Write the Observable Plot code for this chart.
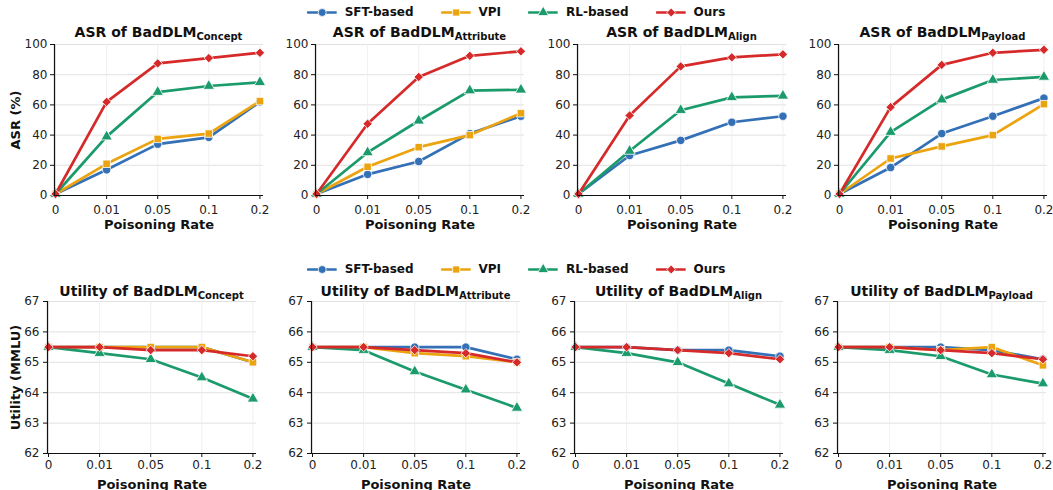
<!DOCTYPE html>
<html>
<head>
<meta charset="utf-8">
<script src="https://cdn.jsdelivr.net/npm/d3@7"></script>
<script src="https://cdn.jsdelivr.net/npm/@observablehq/plot@0.6"></script>
<style>
  html, body { margin: 0; padding: 0; background: #fff; overflow: hidden; }
  #root { position: relative; width: 1053px; height: 490px; font-family: "DejaVu Sans", sans-serif; color: #111; }
  .panel { position: absolute; }
  .title { position: absolute; font-weight: bold; font-size: 14px; white-space: nowrap; transform: translateX(-50%); line-height: 1; }
  .title sub { font-size: 10px; vertical-align: -3px; line-height: 0; }
  .legend { position: absolute; display: flex; align-items: center; font-weight: bold; font-size: 12px; white-space: nowrap; transform: translateX(-50%); }
  .legend .item { display: flex; align-items: center; margin-right: 27px; }
  .legend .item:last-child { margin-right: 0; }
  .legend svg { margin-right: 8px; }
  svg [aria-label$="-axis label"] text, svg [aria-label$="-axis label"] { font-weight: bold; font-size: 13px; fill: #111; }
  svg [aria-label$="tick label"] { font-size: 12px; fill: #222; }
</style>
</head>
<body>
<div id="root"></div>
<script>
// ---------- data ----------
const xLabels = ["0", "0.01", "0.05", "0.1", "0.2"];
const seriesNames = ["SFT-based", "VPI", "RL-based", "Ours"];
const seriesColors = ["#3370b6", "#eba40f", "#1b9a6b", "#d62a2a"];
const seriesSymbols = ["circle", "square", "triangle", "diamond2"];
const panelNames = ["Concept", "Attribute", "Align", "Payload"];

// ASR (%)
const asrConcept_SFT   = [1, 17, 34, 38.5, 62];
const asrConcept_VPI   = [1, 21, 37.5, 41, 62.5];
const asrConcept_RL    = [1, 39, 68.5, 72.5, 75];
const asrConcept_Ours  = [1, 62, 87.5, 91, 94.5];

const asrAttribute_SFT  = [1, 14, 22.5, 41, 52.5];
const asrAttribute_VPI  = [1, 19, 32, 40, 54.5];
const asrAttribute_RL   = [1, 28.5, 49.5, 69.5, 70];
const asrAttribute_Ours = [1, 47.5, 78.5, 92.5, 95.5];

const asrAlign_SFT  = [1, 26.5, 36.5, 48.5, 52.5];
const asrAlign_VPI  = null; // not reported
const asrAlign_RL   = [1, 29.5, 56.5, 65, 66];
const asrAlign_Ours = [1, 53, 85.5, 91.5, 93.5];

const asrPayload_SFT  = [1, 18.5, 41, 52.5, 64.5];
const asrPayload_VPI  = [1, 24.5, 32.5, 40, 60.5];
const asrPayload_RL   = [1, 42, 63.5, 76.5, 78.5];
const asrPayload_Ours = [1, 58.5, 86.5, 94.5, 96.5];

// Utility (MMLU)
const utilConcept_SFT  = [65.5, 65.5, 65.5, 65.5, 65.0];
const utilConcept_VPI  = [65.5, 65.5, 65.5, 65.5, 65.0];
const utilConcept_RL   = [65.5, 65.3, 65.1, 64.5, 63.8];
const utilConcept_Ours = [65.5, 65.5, 65.4, 65.4, 65.2];

const utilAttribute_SFT  = [65.5, 65.5, 65.5, 65.5, 65.1];
const utilAttribute_VPI  = [65.5, 65.5, 65.3, 65.2, 65.0];
const utilAttribute_RL   = [65.5, 65.4, 64.7, 64.1, 63.5];
const utilAttribute_Ours = [65.5, 65.5, 65.4, 65.3, 65.0];

const utilAlign_SFT  = [65.5, 65.5, 65.4, 65.4, 65.2];
const utilAlign_VPI  = null; // not reported
const utilAlign_RL   = [65.5, 65.3, 65.0, 64.3, 63.6];
const utilAlign_Ours = [65.5, 65.5, 65.4, 65.3, 65.1];

const utilPayload_SFT  = [65.5, 65.5, 65.5, 65.4, 65.1];
const utilPayload_VPI  = [65.5, 65.5, 65.4, 65.5, 64.9];
const utilPayload_RL   = [65.5, 65.4, 65.2, 64.6, 64.3];
const utilPayload_Ours = [65.5, 65.5, 65.4, 65.3, 65.1];

const asrTicks = [0, 20, 40, 60, 80, 100];
const utilTicks = [62, 63, 64, 65, 66, 67];

const asrData = [
  [asrConcept_SFT, asrConcept_VPI, asrConcept_RL, asrConcept_Ours],
  [asrAttribute_SFT, asrAttribute_VPI, asrAttribute_RL, asrAttribute_Ours],
  [asrAlign_SFT, asrAlign_VPI, asrAlign_RL, asrAlign_Ours],
  [asrPayload_SFT, asrPayload_VPI, asrPayload_RL, asrPayload_Ours]
];
const utilData = [
  [utilConcept_SFT, utilConcept_VPI, utilConcept_RL, utilConcept_Ours],
  [utilAttribute_SFT, utilAttribute_VPI, utilAttribute_RL, utilAttribute_Ours],
  [utilAlign_SFT, utilAlign_VPI, utilAlign_RL, utilAlign_Ours],
  [utilPayload_SFT, utilPayload_VPI, utilPayload_RL, utilPayload_Ours]
];

// ---------- layout ----------
const root = document.getElementById("root");
const rows = [
  { key: "asr", prefix: "ASR of BadDLM", data: asrData, domain: [0, 100], ticks: asrTicks,
    ylabel: "ASR (%)", top: 40, height: 200, mTop: 4, plotBottom: 195, xlabOff: 33, xpad: 6,
    lefts: [54, 315, 577, 838], titleY: 25, legendY: 5, ypad: 3 },
  { key: "util", prefix: "Utility of BadDLM", data: utilData, domain: [62, 67], ticks: utilTicks,
    ylabel: "Utility (MMLU)", top: 296, height: 194, mTop: 5, plotBottom: 453, xlabOff: 35, xpad: 3,
    lefts: [47, 311, 574, 837], titleY: 284, legendY: 262, ypad: 4 }
];
const plotWidth = 209;

function makeLegend(y) {
  const lg = document.createElement("div");
  lg.className = "legend";
  lg.style.left = "516px";
  lg.style.top = y + "px";
  seriesNames.forEach((name, i) => {
    const item = document.createElement("div");
    item.className = "item";
    const sw = Plot.plot({
      width: 30, height: 14, margin: 0,
      x: { domain: [0, 1], axis: null }, y: { domain: [0, 1], axis: null },
      marks: [
        Plot.line([[0.03, 0.5], [0.97, 0.5]], { stroke: seriesColors[i], strokeWidth: 2.7 }),
        Plot.dot([[0.5, 0.5]], { symbol: seriesSymbols[i], fill: seriesColors[i], stroke: "white", strokeWidth: 0.8, r: 4 })
      ]
    });
    item.appendChild(sw);
    const t = document.createElement("span");
    t.textContent = name;
    item.appendChild(t);
    lg.appendChild(item);
  });
  root.appendChild(lg);
}

rows.forEach((row, ri) => {
  makeLegend(row.legendY);
  row.lefts.forEach((left, pi) => {
    const mLeft = pi === 0 ? left : 40;
    const mRight = 6;
    const svgLeft = left - mLeft;
    const mBottom = row.top + row.height - row.plotBottom;
    const marks = [
      Plot.gridY(row.ticks, { stroke: "#d9d9d9", strokeOpacity: 1, strokeWidth: 0.8 }),
      Plot.gridX(d3.range(xLabels.length), { stroke: "#ececec", strokeOpacity: 1, strokeWidth: 0.8 }),
      Plot.axisX(d3.range(xLabels.length), {
        tickFormat: i => xLabels[i], tickSize: 4, tickPadding: row.xpad,
        label: "Poisoning Rate", labelAnchor: "center", labelArrow: "none", labelOffset: row.xlabOff
      }),
      Plot.axisY(row.ticks, {
        tickSize: 4, tickPadding: row.ypad,
        label: pi === 0 ? row.ylabel : null, labelAnchor: "center", labelArrow: "none", labelOffset: left - 10
      })
    ];
    row.data[pi].forEach((vals, si) => {
      if (!vals) return;
      const pts = vals.map((v, i) => ({ i, v }));
      marks.push(Plot.line(pts, { x: "i", y: "v", stroke: seriesColors[si], strokeWidth: 2.7 }));
      marks.push(Plot.dot(pts, { x: "i", y: "v", symbol: () => seriesSymbols[si], fill: seriesColors[si], stroke: "white", strokeWidth: 0.8, r: 4.2 }));
    });
    marks.push(Plot.ruleX([-0.02], { stroke: "#111", strokeWidth: 1.2 }));
    marks.push(Plot.ruleY([row.domain[0]], { stroke: "#111", strokeWidth: 1.2 }));

    const chart = Plot.plot({
      width: mLeft + plotWidth + mRight,
      height: row.height,
      marginLeft: mLeft, marginRight: mRight, marginTop: row.mTop, marginBottom: mBottom,
      style: { fontFamily: "DejaVu Sans, sans-serif", fontSize: "12px", overflow: "visible", background: "transparent" },
      x: { type: "linear", domain: [-0.02, 4.07] },
      y: { domain: row.domain },
      symbol: { type: "identity" },
      marks
    });
    chart.classList.add("panel");
    chart.style.left = svgLeft + "px";
    chart.style.top = row.top + "px";
    root.appendChild(chart);

    const title = document.createElement("div");
    title.className = "title";
    title.innerHTML = row.prefix + "<sub>" + panelNames[pi] + "</sub>";
    title.style.left = (left + plotWidth / 2) + "px";
    title.style.top = row.titleY + "px";
    root.appendChild(title);
  });
});
</script>
</body>
</html>
